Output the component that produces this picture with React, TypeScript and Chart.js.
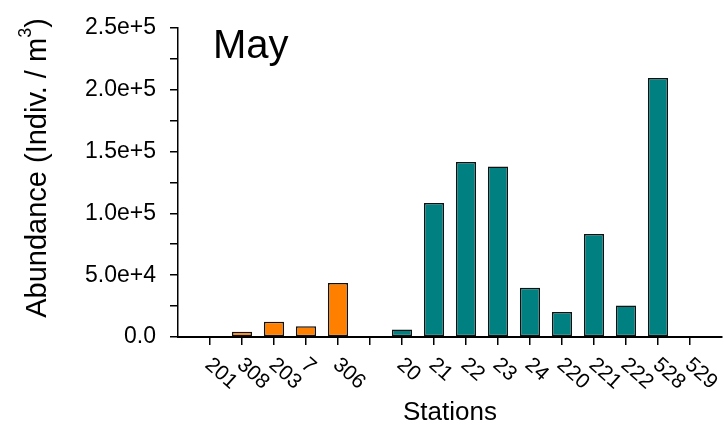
import React, { useEffect, useRef } from 'react';
import { Chart, registerables } from 'chart.js';

Chart.register(...registerables);

// ---- data ----
const stationLabels = ['201', '308', '203', '7', '306', '', '20', '21', '22', '23', '24', '220', '221', '222', '528', '529'];
const orangeStations = ['201', '308', '203', '7', '306'];
const orangeValues = [0, 4200, 12300, 8600, 43700];
const tealStations = ['20', '21', '22', '23', '24', '220', '221', '222', '528', '529'];
const tealValues = [6000, 108300, 141500, 137900, 39900, 20200, 83300, 25500, 209400, 0];
const yMax = 250000;
const yStep = 25000;
const yLabelStep = 50000;
const panelTitle = 'May';
const xTitle = 'Stations';
const yTitleMain = 'Abundance (Indiv. / m';
const yTitleSup = '3';
const yTitleEnd = ')';

const FONT = '"Liberation Sans", Arial, Helvetica, sans-serif';

const fmtY = (v: number) => (v === 0 ? '0.0' : v.toExponential(1));

const textPlugin = {
  id: 'customText',
  afterDraw(chart: any) {
    const ctx = chart.ctx as CanvasRenderingContext2D;
    const xs = chart.scales.x;
    const area = chart.chartArea;
    ctx.save();
    ctx.fillStyle = '#000';

    // rotated x tick labels
    ctx.font = `21px ${FONT}`;
    ctx.textAlign = 'left';
    ctx.textBaseline = 'middle';
    stationLabels.forEach((lab, i) => {
      if (!lab) return;
      const px = xs.getPixelForValue(i);
      ctx.save();
      ctx.translate(px - 2, area.bottom + 25);
      ctx.rotate((42 * Math.PI) / 180);
      ctx.fillText(lab, 0, 0);
      ctx.restore();
    });

    // x axis title
    ctx.font = `26px ${FONT}`;
    ctx.textAlign = 'center';
    ctx.textBaseline = 'alphabetic';
    ctx.fillText(xTitle, (area.left + area.right) / 2, 420);

    // panel title
    ctx.font = `40px ${FONT}`;
    ctx.textAlign = 'left';
    ctx.fillText(panelTitle, area.left + 35, 58);

    // y axis title with superscript
    const mainFont = `29px ${FONT}`;
    const supFont = `18px ${FONT}`;
    ctx.font = mainFont;
    const wMain = ctx.measureText(yTitleMain).width;
    const wEnd = ctx.measureText(yTitleEnd).width;
    ctx.font = supFont;
    const wSup = ctx.measureText(yTitleSup).width;
    const total = wMain + wSup + wEnd;
    ctx.save();
    ctx.translate(38, 168);
    ctx.rotate(-Math.PI / 2);
    ctx.textAlign = 'left';
    ctx.textBaseline = 'middle';
    let cx = -total / 2;
    ctx.font = mainFont;
    ctx.fillText(yTitleMain, cx, 0);
    cx += wMain;
    ctx.font = supFont;
    ctx.fillText(yTitleSup, cx, -12);
    cx += wSup;
    ctx.font = mainFont;
    ctx.fillText(yTitleEnd, cx, 0);
    ctx.restore();

    ctx.restore();
  },
};

export default function App() {
  const ref = useRef<HTMLCanvasElement | null>(null);

  useEffect(() => {
    if (!ref.current) return;
    const barStyle = {
      borderColor: '#111',
      borderWidth: 1.5,
      borderSkipped: false as const,
      grouped: false,
      categoryPercentage: 1,
      barPercentage: 0.63,
    };
    const chart = new Chart(ref.current, {
      type: 'bar',
      data: {
        datasets: [
          {
            label: 'orange',
            data: orangeStations.map((s, i) => ({ x: stationLabels.indexOf(s), y: orangeValues[i] })),
            backgroundColor: '#FF8000',
            ...barStyle,
          },
          {
            label: 'teal',
            data: tealStations.map((s, i) => ({ x: stationLabels.indexOf(s), y: tealValues[i] })),
            backgroundColor: '#008080',
            ...barStyle,
          },
        ],
      },
      options: {
        animation: false,
        responsive: true,
        maintainAspectRatio: false,
        layout: { padding: { left: 0, right: 2, top: 17, bottom: 0 } },
        plugins: { legend: { display: false }, tooltip: { enabled: false } },
        scales: {
          x: {
            type: 'linear',
            offset: false,
            min: -1,
            max: 16,
            afterBuildTicks: (scale: any) => {
              scale.ticks = stationLabels.map((_, i) => ({ value: i }));
            },
            afterFit: (scale: any) => {
              scale.height = 93;
            },
            ticks: { display: false },
            grid: { offset: false, drawOnChartArea: false, drawTicks: true, tickLength: 8, color: '#000', lineWidth: 1.5 },
            border: { display: true, color: '#000', width: 2 },
          },
          y: {
            type: 'linear',
            min: 0,
            max: yMax,
            afterBuildTicks: (scale: any) => {
              const t = [];
              for (let v = 0; v <= yMax; v += yStep) t.push({ value: v });
              scale.ticks = t;
            },
            afterFit: (scale: any) => {
              scale.width = 178;
            },
            ticks: {
              padding: 14,
              color: '#000',
              font: { family: FONT, size: 23 },
              autoSkip: false,
              callback: (v: any) => (Number(v) % yLabelStep === 0 ? fmtY(Number(v)) : ''),
            },
            grid: { drawOnChartArea: false, drawTicks: true, tickLength: 8, color: '#000', lineWidth: 1.5 },
            border: { display: true, color: '#000', width: 1.5 },
          },
        },
      },
      plugins: [textPlugin],
    } as any);
    return () => chart.destroy();
  }, []);

  return (
    <div style={{ position: 'absolute', left: 0, top: 0, width: 724, height: 430, background: '#fff' }}>
      <canvas ref={ref} />
    </div>
  );
}
